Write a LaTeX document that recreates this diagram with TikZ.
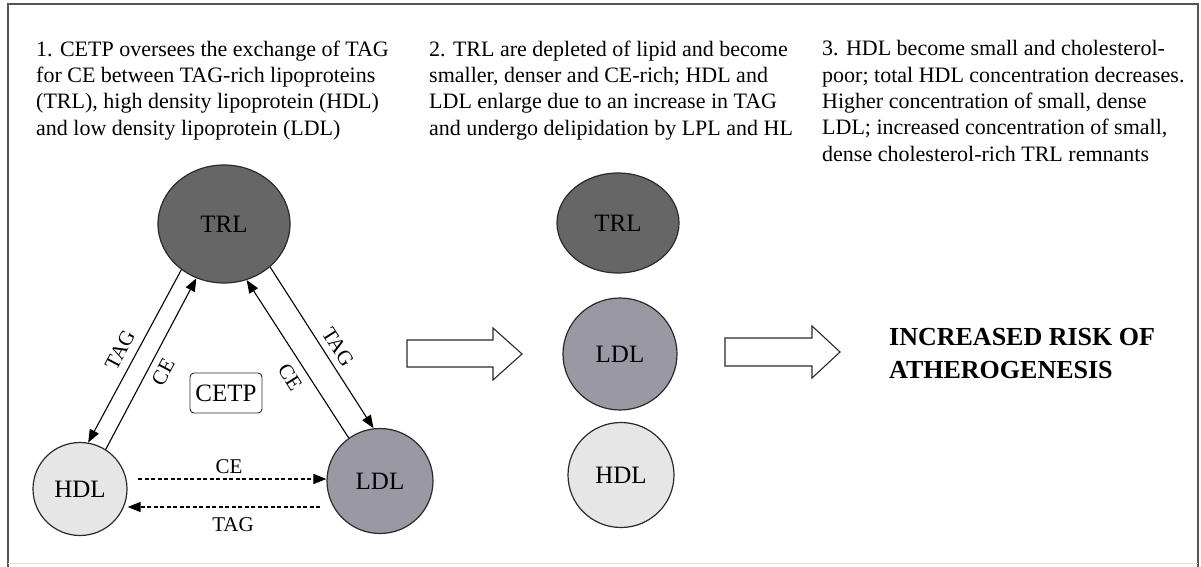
\documentclass[tikz,border=0pt]{standalone}
\usepackage{fontspec}
\setmainfont{Liberation Serif}
\usetikzlibrary{arrows.meta,shapes.geometric}
\definecolor{trlfill}{HTML}{666666}
\definecolor{ldlfill}{HTML}{9A98A3}
\definecolor{hdlfill}{HTML}{E6E6E6}
\definecolor{edgecol}{HTML}{2A2A2A}
\definecolor{framecol}{HTML}{555555}
\tikzset{
  lipo/.style={ellipse, draw=edgecol, line width=1.2pt, inner sep=0pt, font=\fontsize{25}{30}\selectfont},
  bodytext/.style={anchor=north west, inner sep=0pt, align=left, font=\fontsize{22}{26.3}\selectfont},
  flow/.style={line width=1.1pt, -{Triangle[length=13pt,width=10pt]}},
  dflow/.style={flow, dashed, dash pattern=on 4pt off 2.5pt},
  lbl/.style={inner sep=0pt, font=\fontsize{21}{25}\selectfont},
  bigarrow/.style={draw=edgecol, line width=1.1pt, fill=white},
}
\begin{document}
\begin{tikzpicture}[x=1pt,y=-1pt]
\useasboundingbox (0,0) rectangle (1201,567);
% frame
\draw[framecol, line width=2pt] (8,570) -- (8,4) -- (1198,4) -- (1198,570);
\draw[black!12, line width=1pt] (8,563) -- (1198,563);

% texts
\node[bodytext] (txt1) at (36,40.5) {1. CETP oversees the exchange of TAG\\for CE between TAG-rich lipoproteins\\(TRL), high density lipoprotein (HDL)\\and low density lipoprotein (LDL)};
\node[bodytext] (txt2) at (429,40.5) {2. TRL are depleted of lipid and become\\smaller, denser and CE-rich; HDL and\\LDL enlarge due to an increase in TAG\\and undergo delipidation by LPL and HL};
\node[bodytext] (txt3) at (822,40.5) {3. HDL become small and cholesterol-\\poor; total HDL concentration decreases.\\Higher concentration of small, dense\\LDL; increased concentration of small,\\dense cholesterol-rich TRL remnants};

% left triangle
\node[lipo, fill=trlfill, minimum width=132pt, minimum height=118pt] (trl) at (224,224) {TRL};
\node[lipo, fill=hdlfill, minimum width=94pt, minimum height=93pt] (hdl) at (80,489) {HDL};
\node[lipo, fill=ldlfill, minimum width=106pt, minimum height=105pt] (ldl) at (380,481) {LDL};
\node[draw=edgecol, line width=0.9pt, rounded corners=4pt, minimum width=72pt, minimum height=40pt, inner sep=0pt, font=\fontsize{25}{30}\selectfont] (cetp) at (226,393) {CETP};

\draw[flow] (trl.227) -- (hdl.80);
\draw[flow] (hdl.57) -- (trl.243);
\draw[flow] (trl.317) -- (ldl.97);
\draw[flow] (ldl.126) -- (trl.292);

\node[lbl, rotate=62] (l1) at (120,350) {TAG};
\node[lbl, rotate=62] (l2) at (163,372) {CE};
\node[lbl, rotate=-57.5] (l3) at (290,377) {CE};
\node[lbl, rotate=-57.5] (l4) at (338,347) {TAG};

\coordinate (ceS) at (138,479);
\coordinate (tagS) at (320,507);
\draw[dflow] (ceS) -- (ldl.west |- ceS);
\draw[dflow] (tagS) -- (hdl.east |- tagS);
\node[lbl] (l5) at (229,467) {CE};
\node[lbl] (l6) at (233,525) {TAG};

% block arrows
\draw[bigarrow] (407,340) -- (493,340) -- (493,328) -- (522,354) -- (493,380) -- (493,367) -- (407,367) -- cycle;
\draw[bigarrow] (725,338) -- (812,338) -- (812,326) -- (840,352) -- (812,378) -- (812,366) -- (725,366) -- cycle;

% middle column
\node[lipo, fill=trlfill, minimum width=122pt, minimum height=100pt] (trl2) at (618,223) {TRL};
\node[lipo, fill=ldlfill, minimum width=114pt, minimum height=112pt] (ldl2) at (620,354) {LDL};
\node[lipo, fill=hdlfill, minimum width=106pt, minimum height=105pt] (hdl2) at (621,475) {HDL};

% result
\node[anchor=north west, inner sep=0pt, align=left, font=\fontsize{26}{33}\bfseries] (risk) at (889,328) {INCREASED RISK OF\\ATHEROGENESIS};
\end{tikzpicture}
\end{document}
